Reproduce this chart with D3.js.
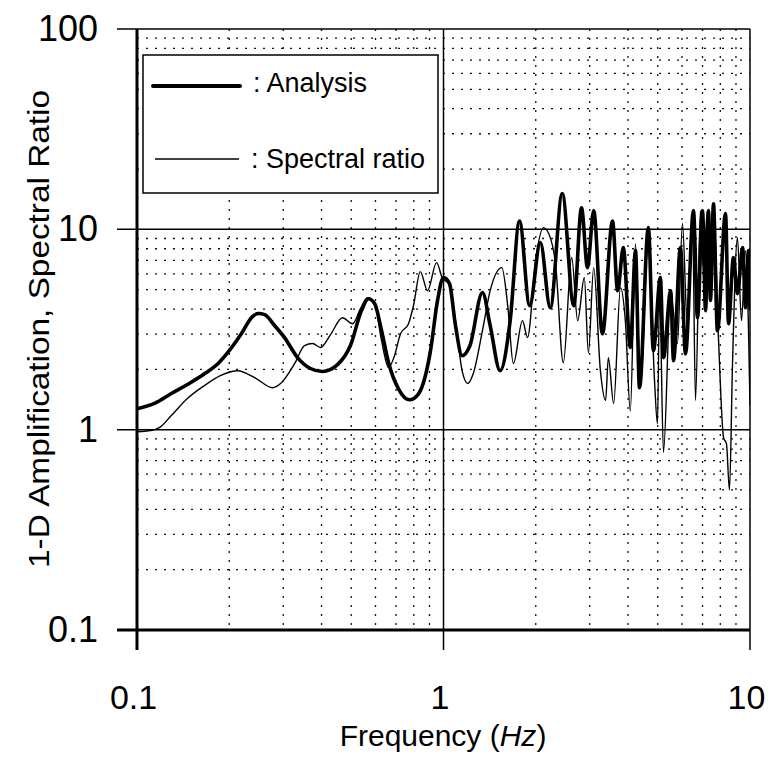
<!DOCTYPE html>
<html>
<head>
<meta charset="utf-8">
<script src="https://cdnjs.cloudflare.com/ajax/libs/d3/7.8.5/d3.min.js"></script>
<style>
  body { margin: 0; background: #fff; }
  svg { display: block; font-family: Arial, "Liberation Sans", sans-serif; }
</style>
</head>
<body>
<div id="chart"></div>
<script>
// values
var analysisFreq = [0.1, 0.115, 0.129, 0.146, 0.166, 0.185, 0.2, 0.219, 0.238, 0.249, 0.261, 0.281, 0.303, 0.334, 0.368, 0.403, 0.451, 0.497, 0.54, 0.569, 0.596, 0.628, 0.662, 0.713, 0.775, 0.829, 0.907, 0.956, 1.0, 1.046, 1.094, 1.15, 1.22, 1.34, 1.42, 1.53, 1.65, 1.77, 1.91, 2.07, 2.23, 2.44, 2.66, 2.82, 2.95, 3.09, 3.3, 3.56, 3.7, 3.86, 4.07, 4.23, 4.36, 4.66, 4.84, 5.1, 5.22, 5.51, 5.63, 5.93, 6.16, 6.54, 6.74, 7.0, 7.16, 7.32, 7.43, 7.6, 7.83, 8.32, 8.51, 8.83, 9.1, 9.46, 9.67, 9.89, 10.0];
var analysisAmp = [1.27, 1.36, 1.51, 1.68, 1.9, 2.16, 2.48, 3.01, 3.67, 3.8, 3.75, 3.31, 2.88, 2.29, 2.02, 1.95, 2.11, 2.63, 3.93, 4.5, 4.26, 3.12, 2.16, 1.6, 1.41, 1.51, 2.48, 4.41, 5.75, 5.36, 3.31, 2.34, 2.63, 4.84, 3.31, 1.97, 3.5, 11.0, 4.16, 8.59, 4.06, 15.1, 4.16, 12.8, 6.44, 12.4, 3.01, 11.0, 4.94, 8.11, 2.57, 7.83, 1.62, 10.2, 2.48, 5.75, 2.29, 4.94, 2.21, 8.11, 2.39, 12.4, 3.62, 12.4, 3.93, 12.4, 4.41, 13.4, 3.12, 12.0, 3.38, 7.23, 4.77, 8.11, 4.06, 7.83, 3.93];

var ratioFreq = [0.1, 0.111, 0.119, 0.129, 0.146, 0.166, 0.187, 0.213, 0.242, 0.277, 0.294, 0.327, 0.352, 0.374, 0.397, 0.428, 0.468, 0.505, 0.536, 0.565, 0.596, 0.628, 0.662, 0.692, 0.724, 0.769, 0.798, 0.84, 0.887, 0.949, 0.993, 1.04, 1.094, 1.15, 1.2, 1.25, 1.34, 1.42, 1.55, 1.62, 1.69, 1.81, 1.88, 2.0, 2.12, 2.23, 2.32, 2.46, 2.62, 2.74, 2.88, 2.97, 3.09, 3.25, 3.38, 3.45, 3.59, 3.78, 3.92, 4.07, 4.23, 4.39, 4.66, 4.88, 4.99, 5.07, 5.22, 5.51, 5.8, 6.02, 6.25, 6.49, 6.64, 6.89, 7.05, 7.26, 7.43, 7.6, 7.89, 8.2, 8.38, 8.57, 8.77, 9.1, 9.38, 9.67, 9.89, 10.0];
var ratioAmp = [0.977, 0.99, 1.03, 1.17, 1.43, 1.66, 1.86, 1.97, 1.82, 1.62, 1.7, 2.14, 2.63, 2.69, 2.57, 2.98, 3.62, 3.38, 4.02, 4.56, 4.26, 2.78, 2.04, 2.34, 3.01, 3.38, 4.16, 6.15, 4.94, 6.82, 5.67, 5.36, 3.5, 1.97, 1.7, 1.9, 3.12, 4.94, 6.44, 4.16, 2.14, 3.5, 2.88, 7.14, 10.2, 9.09, 6.74, 2.16, 7.23, 3.5, 5.75, 2.42, 6.44, 1.97, 1.4, 2.29, 1.35, 5.12, 3.5, 1.24, 8.49, 1.62, 9.09, 1.76, 1.07, 4.94, 0.77, 4.77, 2.69, 10.7, 3.23, 12.4, 1.4, 12.4, 6.44, 12.4, 4.94, 13.4, 2.88, 0.91, 0.85, 0.5, 2.14, 9.09, 3.5, 7.83, 3.12, 1.32];

var xTicks = [0.1, 1, 10];
var yTicks = [0.1, 1, 10, 100];
var legendLabels = [": Analysis", ": Spectral ratio"];

var width = 783,
    height = 761,
    plotL = 137, plotR = 750, plotT = 29, plotB = 630;

var x = d3.scaleLog().domain([0.1, 10]).range([plotL, plotR]);
var y = d3.scaleLog().domain([0.1, 100]).range([plotB, plotT]);

var svg = d3.select("#chart").append("svg")
    .attr("width", width)
    .attr("height", height);

svg.append("clipPath").attr("id", "clip")
    .append("rect")
    .attr("x", plotL).attr("y", plotT)
    .attr("width", plotR - plotL).attr("height", plotB - plotT);

// minor dotted grid
var isDecade = d => Math.abs(Math.log10(d) - Math.round(Math.log10(d))) < 1e-6;
var minorX = x.ticks().filter(d => !isDecade(d));
var minorY = y.ticks().filter(d => !isDecade(d));

svg.append("g").selectAll("line")
    .data(minorY).enter().append("line")
    .attr("x1", plotL).attr("x2", plotR)
    .attr("y1", d => y(d)).attr("y2", d => y(d))
    .attr("stroke", "#111")
    .attr("stroke-width", 1.3)
    .attr("stroke-dasharray", "2,7");

svg.append("g").selectAll("line")
    .data(minorX).enter().append("line")
    .attr("y1", plotT).attr("y2", plotB)
    .attr("x1", d => x(d)).attr("x2", d => x(d))
    .attr("stroke", "#111")
    .attr("stroke-width", 1.3)
    .attr("stroke-dasharray", "2,7");

// major lines
svg.append("g").selectAll("line")
    .data(yTicks).enter().append("line")
    .attr("x1", plotL - 20).attr("x2", plotR)
    .attr("y1", d => y(d)).attr("y2", d => y(d))
    .attr("stroke", "#000")
    .attr("stroke-width", d => d == 0.1 ? 3 : 1.5);

svg.append("g").selectAll("line")
    .data(xTicks).enter().append("line")
    .attr("x1", d => x(d)).attr("x2", d => x(d))
    .attr("y1", plotT).attr("y2", plotB + 20)
    .attr("stroke", "#000")
    .attr("stroke-width", d => d == 0.1 ? 3 : 1.5);

// tick labels
var xAxis = svg.append("g")
    .attr("transform", "translate(0," + plotB + ")")
    .call(d3.axisBottom(x).tickValues(xTicks).tickFormat(d => d).tickSize(20).tickPadding(35));
xAxis.select(".domain").remove();
xAxis.selectAll("line").remove();
xAxis.selectAll("text")
    .attr("font-size", 34)
    .attr("font-family", "Arial, 'Liberation Sans', sans-serif")
    .attr("dx", -4)
    .attr("fill", "#000");

var yAxis = svg.append("g")
    .attr("transform", "translate(" + plotL + ",0)")
    .call(d3.axisLeft(y).tickValues(yTicks).tickFormat(d => d).tickSize(20).tickPadding(19));
yAxis.select(".domain").remove();
yAxis.selectAll("line").remove();
yAxis.selectAll("text")
    .attr("font-size", 36)
    .attr("font-family", "Arial, 'Liberation Sans', sans-serif")
    .attr("fill", "#000");

// curves
var line = d3.line()
    .x(d => x(d[0]))
    .y(d => y(d[1]))
    .curve(d3.curveMonotoneX);

var plot = svg.append("g").attr("clip-path", "url(#clip)");

plot.append("path")
    .datum(ratioFreq.map((f, i) => [f, ratioAmp[i]]))
    .attr("d", line)
    .attr("fill", "none")
    .attr("stroke", "#000")
    .attr("stroke-width", 1.4);

plot.append("path")
    .datum(analysisFreq.map((f, i) => [f, analysisAmp[i]]))
    .attr("d", line)
    .attr("fill", "none")
    .attr("stroke", "#000")
    .attr("stroke-width", 3.6)
    .attr("stroke-linejoin", "round");

// legend
var legend = svg.append("g");
legend.append("rect")
    .attr("x", 143).attr("y", 55)
    .attr("width", 295).attr("height", 138)
    .attr("fill", "#fff")
    .attr("stroke", "#000")
    .attr("stroke-width", 1.5);

legend.append("line").attr("x1", 153).attr("x2", 240).attr("y1", 86).attr("y2", 86)
    .attr("stroke", "#000").attr("stroke-width", 4).attr("stroke-linecap", "round");
legend.append("line").attr("x1", 155).attr("x2", 239).attr("y1", 159).attr("y2", 159)
    .attr("stroke", "#000").attr("stroke-width", 1.3);

legend.selectAll("text")
    .data(legendLabels).enter().append("text")
    .attr("x", (d, i) => i == 0 ? 253 : 251)
    .attr("y", (d, i) => i == 0 ? 92 : 168)
    .attr("font-size", 27)
    .attr("fill", "#000")
    .text(d => d);

// axis titles
var xt = svg.append("text")
    .attr("x", 443).attr("y", 746)
    .attr("text-anchor", "middle")
    .attr("font-size", 30)
    .attr("fill", "#000");
xt.append("tspan").text("Frequency (");
xt.append("tspan").attr("font-style", "italic").text("Hz");
xt.append("tspan").text(")");

svg.append("text")
    .attr("transform", "translate(49,329) rotate(-90)")
    .attr("text-anchor", "middle")
    .attr("font-size", 29)
    .attr("textLength", 478)
    .attr("lengthAdjust", "spacingAndGlyphs")
    .attr("fill", "#000")
    .text("1-D Amplification, Spectral Ratio");
</script>
</body>
</html>
